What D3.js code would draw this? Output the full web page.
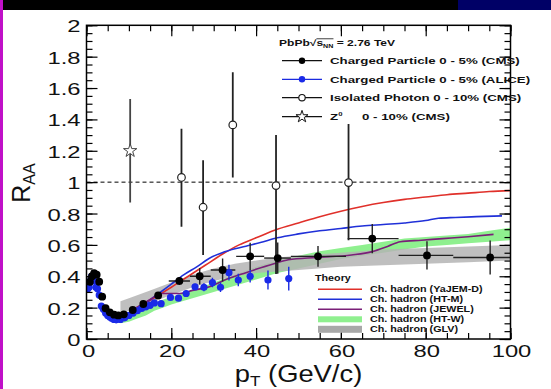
<!DOCTYPE html>
<html>
<head>
<meta charset="utf-8">
<script src="https://cdn.jsdelivr.net/npm/d3@7"></script>
<style>
  body { margin: 0; background: #fff; }
  text { font-family: "Liberation Sans", Arial, Helvetica, sans-serif; }
</style>
</head>
<body>
<div id="chart"></div>
<script>
// ---- data ----
// CMS charged particle 0-5%
const cmsPt   = [0.8, 1.3, 1.8, 2.4, 3.0, 3.7, 4.5, 5.5, 6.5, 7.5, 8.8, 10.9, 13.4, 16.9, 21.9, 26.7, 32.1, 38.6, 45.1, 54.6, 67.4, 80.3, 95.2];
const cmsR    = [0.365, 0.40, 0.42, 0.41, 0.365, 0.27, 0.196, 0.17, 0.155, 0.15, 0.157, 0.185, 0.223, 0.278, 0.37, 0.40, 0.44, 0.527, 0.516, 0.527, 0.64, 0.533, 0.52];
const cmsErr  = [0.01, 0.01, 0.01, 0.01, 0.01, 0.01, 0.01, 0.01, 0.01, 0.01, 0.01, 0.01, 0.01, 0.015, 0.025, 0.053, 0.074, 0.087, 0.10, 0.066, 0.093, 0.09, 0.108];
const cmsBinLo = [null, null, null, null, null, null, null, null, null, null, null, null, null, null, 19.4, 24.4, 29.3, 35.3, 41.9, 48.2, 61.6, 73.6, 86.5];
const cmsBinHi = [null, null, null, null, null, null, null, null, null, null, null, null, null, null, 24.4, 29.3, 35.1, 41.9, 48.2, 61.2, 73.6, 86.5, 100];

// ALICE charged particle 0-5%
const alicePt  = [0.3, 0.6, 0.9, 1.2, 1.5, 1.8, 2.2, 2.6, 3.0, 3.5, 4.0, 4.5, 5.0, 5.5, 6.0, 6.5, 7.0, 8.0, 9.0, 10.0, 11.0, 12.0, 13.0, 14.0, 15.0, 16.0, 17.6, 19.8, 21.7, 23.5, 25.6, 27.7, 29.7, 31.6, 33.6, 35.8, 38.6, 42.8, 47.7];
const aliceR   = [0.32, 0.33, 0.37, 0.40, 0.39, 0.37, 0.33, 0.32, 0.28, 0.21, 0.19, 0.165, 0.15, 0.14, 0.13, 0.125, 0.122, 0.125, 0.135, 0.15, 0.165, 0.18, 0.195, 0.205, 0.215, 0.23, 0.225, 0.265, 0.26, 0.29, 0.333, 0.33, 0.36, 0.33, 0.423, 0.376, 0.40, 0.376, 0.385];
const aliceErr = [0.01, 0.01, 0.01, 0.01, 0.01, 0.01, 0.01, 0.01, 0.01, 0.01, 0.01, 0.01, 0.01, 0.01, 0.01, 0.01, 0.01, 0.01, 0.01, 0.01, 0.01, 0.01, 0.01, 0.01, 0.01, 0.01, 0.015, 0.015, 0.015, 0.02, 0.02, 0.025, 0.03, 0.03, 0.05, 0.04, 0.04, 0.06, 0.075];

// isolated photon 0-10%
const phoPt = [22.4, 27.5, 34.5, 44.7, 61.8];
const phoR  = [1.03, 0.84, 1.365, 0.978, 0.997];
const phoLo = [0.716, 0.535, 1.03, 0.414, 0.63];
const phoHi = [1.34, 1.14, 1.70, 1.30, 1.37];

// Z0 0-10%
const zPt = [10.3], zR = [1.20], zLo = [0.87], zHi = [1.53];

// theory curves
const yajemPt = [11, 14, 17, 20, 24, 28, 32, 36, 40, 45, 50, 55, 60, 65, 70, 75, 80, 85, 90, 95, 100];
const yajemR  = [0.19, 0.23, 0.28, 0.33, 0.40, 0.47, 0.54, 0.60, 0.645, 0.70, 0.74, 0.78, 0.815, 0.845, 0.87, 0.89, 0.905, 0.92, 0.93, 0.94, 0.946];
const htmPt = [11, 14, 17, 20, 23, 26, 29, 32, 35, 38, 41, 45, 50, 55, 60, 65, 70, 75, 80, 83, 87, 92, 98];
const htmR  = [0.18, 0.23, 0.29, 0.35, 0.41, 0.46, 0.515, 0.55, 0.575, 0.595, 0.615, 0.645, 0.67, 0.69, 0.705, 0.72, 0.73, 0.74, 0.755, 0.77, 0.775, 0.78, 0.785];
const jewelPt = [10.5, 13, 15.5, 17.7, 20, 22, 25, 29, 32.6, 37.6, 44.2, 47.6, 54.2, 62.5, 67.4, 71, 74, 79, 84, 90, 96];
const jewelR  = [0.18, 0.22, 0.26, 0.29, 0.29, 0.29, 0.31, 0.333, 0.376, 0.423, 0.48, 0.505, 0.52, 0.536, 0.557, 0.59, 0.62, 0.63, 0.64, 0.652, 0.667];
const htwPt = [8, 10, 12, 14, 16, 18, 20, 25, 30, 35, 40, 45, 50, 55, 60, 65, 70, 75, 80, 85, 90, 95, 100];
const htwLo = [0.10, 0.11, 0.13, 0.15, 0.18, 0.20, 0.22, 0.26, 0.30, 0.34, 0.38, 0.42, 0.45, 0.48, 0.51, 0.53, 0.55, 0.57, 0.59, 0.60, 0.61, 0.62, 0.63];
const htwHi = [0.13, 0.15, 0.17, 0.20, 0.23, 0.25, 0.27, 0.31, 0.36, 0.41, 0.46, 0.50, 0.53, 0.56, 0.58, 0.60, 0.62, 0.64, 0.65, 0.66, 0.67, 0.69, 0.71];
const glvPt = [8, 10, 15, 20, 25, 30, 35, 40, 45, 50, 60, 70, 80, 90, 100];
const glvLo = [0.16, 0.18, 0.23, 0.28, 0.33, 0.37, 0.40, 0.42, 0.43, 0.44, 0.46, 0.47, 0.48, 0.49, 0.50];
const glvHi = [0.24, 0.26, 0.31, 0.36, 0.41, 0.45, 0.48, 0.50, 0.52, 0.53, 0.55, 0.57, 0.58, 0.59, 0.60];

// ticks
const xMajor = [0, 20, 40, 60, 80, 100];
const xTickLabels = ["0", "20", "40", "60", "80", "100"];
const yMajor = [0, 0.2, 0.4, 0.6, 0.8, 1, 1.2, 1.4, 1.6, 1.8, 2];
const yTickLabels = ["0", "0.2", "0.4", "0.6", "0.8", "1", "1.2", "1.4", "1.6", "1.8", "2"];

const dataLegend = ["Charged Particle 0 - 5% (CMS)", "Charged Particle 0 - 5% (ALICE)", "Isolated Photon 0 - 10% (CMS)", "0 - 10% (CMS)"];
const theoryLegend = ["Ch. hadron (YaJEM-D)", "Ch. hadron (HT-M)", "Ch. hadron (JEWEL)", "Ch. hadron (HT-W)", "Ch. hadron (GLV)"];

// ---- drawing ----
const W = 551, H = 389;
const x = d3.scaleLinear().domain([0, 100]).range([86.5, 510.5]);
const y = d3.scaleLinear().domain([0, 2]).range([339, 25.3]);

const svg = d3.select("#chart").append("svg")
              .attr("width", W)
              .attr("height", H);

// screenshot surroundings
svg.append("rect").attr("width", W).attr("height", H).attr("fill", "#fff");
svg.append("rect").attr("width", W).attr("height", 10).attr("fill", "#000");
svg.append("rect").attr("x", 458).attr("width", W - 458).attr("height", 10).attr("fill", "#000066");
svg.append("rect").attr("width", 3).attr("height", H).attr("fill", "#c010c8");

svg.append("clipPath").attr("id", "plot")
   .append("rect")
   .attr("x", x(0)).attr("y", y(2))
   .attr("width", x(100) - x(0)).attr("height", y(0) - y(2));
const plot = svg.append("g").attr("clip-path", "url(#plot)");

const band = (pt, lo, hi) => d3.area()
    .x((d, i) => x(pt[i]))
    .y0((d, i) => y(lo[i]))
    .y1((d, i) => y(hi[i]))(pt);
const curve = (pt, r) => d3.line()
    .x((d, i) => x(pt[i]))
    .y((d, i) => y(r[i]))
    .curve(d3.curveMonotoneX)(pt);

plot.append("path").attr("d", band(htwPt, htwLo, htwHi)).attr("fill", "#8ff08f");
plot.append("path").attr("d", band(glvPt, glvLo, glvHi)).attr("fill", "#b4b4b4").attr("opacity", 0.85);

const red = "#e0302a", blue = "#2030d8", purple = "#7a1f78";
plot.append("path").attr("d", curve(yajemPt, yajemR)).attr("fill", "none").attr("stroke", red).attr("stroke-width", 1.6);
plot.append("path").attr("d", curve(htmPt, htmR)).attr("fill", "none").attr("stroke", blue).attr("stroke-width", 1.6);
plot.append("path").attr("d", curve(jewelPt, jewelR)).attr("fill", "none").attr("stroke", purple).attr("stroke-width", 1.6);

// R_AA = 1 reference
plot.append("line")
    .attr("x1", x(0)).attr("x2", x(100))
    .attr("y1", y(1)).attr("y2", y(1))
    .attr("stroke", "#000").attr("stroke-width", 1)
    .attr("stroke-dasharray", "4,3");

// error bars
const err = plot.append("g").attr("stroke", "#222").attr("stroke-width", 1.4);
cmsPt.forEach((p, i) => {
    err.append("line").attr("x1", x(p)).attr("x2", x(p))
       .attr("y1", y(cmsR[i] - cmsErr[i])).attr("y2", y(cmsR[i] + cmsErr[i]));
    if (cmsBinLo[i] !== null)
        err.append("line").attr("x1", x(cmsBinLo[i])).attr("x2", x(cmsBinHi[i]))
           .attr("y1", y(cmsR[i])).attr("y2", y(cmsR[i]));
});
alicePt.forEach((p, i) => {
    err.append("line").attr("x1", x(p)).attr("x2", x(p)).attr("stroke", "#1a2ae0")
       .attr("y1", y(aliceR[i] - aliceErr[i])).attr("y2", y(aliceR[i] + aliceErr[i]));
});
phoPt.forEach((p, i) => {
    err.append("line").attr("x1", x(p)).attr("x2", x(p)).attr("stroke-width", 1.8)
       .attr("y1", y(phoLo[i])).attr("y2", y(phoHi[i]));
});
zPt.forEach((p, i) => {
    err.append("line").attr("x1", x(p)).attr("x2", x(p)).attr("stroke", "#444").attr("stroke-width", 1.8)
       .attr("y1", y(zLo[i])).attr("y2", y(zHi[i]));
});

// markers
plot.selectAll(".alice").data(alicePt).enter()
    .append("circle").attr("class", "alice")
    .attr("cx", d => x(d)).attr("cy", (d, i) => y(aliceR[i]))
    .attr("r", 3.6).attr("fill", "#1a2ae8");
plot.selectAll(".cms").data(cmsPt).enter()
    .append("circle").attr("class", "cms")
    .attr("cx", d => x(d)).attr("cy", (d, i) => y(cmsR[i]))
    .attr("r", 3.9).attr("fill", "#000");
plot.selectAll(".pho").data(phoPt).enter()
    .append("circle").attr("class", "pho")
    .attr("cx", d => x(d)).attr("cy", (d, i) => y(phoR[i]))
    .attr("r", 3.8).attr("fill", "#fff").attr("stroke", "#222").attr("stroke-width", 1.2);
const star = d3.symbol().type(d3.symbolStar).size(55);
plot.selectAll(".zz").data(zPt).enter()
    .append("path").attr("class", "zz")
    .attr("transform", (d, i) => `translate(${x(d)},${y(zR[i])})`)
    .attr("d", star).attr("fill", "#fff").attr("stroke", "#444").attr("stroke-width", 1);

// axes: ticks on all four sides, pointing inward
const xMinor = d3.range(0, 100.1, 5), yMinor = d3.range(0, 2.001, 0.05);
function tickAxis(axis, scale, vals, size, tx, ty) {
    const g = svg.append("g").attr("transform", `translate(${tx},${ty})`)
                 .call(axis(scale).tickValues(vals).tickSize(size).tickFormat(""));
    g.select(".domain").remove();
    g.selectAll("line").attr("stroke", "#000").attr("stroke-width", 1.2);
    return g;
}
tickAxis(d3.axisBottom, x, xMinor, -6, 0, y(0));
tickAxis(d3.axisBottom, x, xMajor, -11, 0, y(0));
tickAxis(d3.axisTop, x, xMinor, -6, 0, y(2));
tickAxis(d3.axisTop, x, xMajor, -11, 0, y(2));
tickAxis(d3.axisLeft, y, yMinor, -6, x(0), 0);
tickAxis(d3.axisLeft, y, yMajor, -11, x(0), 0);
tickAxis(d3.axisRight, y, yMinor, -6, x(100), 0);
tickAxis(d3.axisRight, y, yMajor, -11, x(100), 0);

svg.append("rect")
   .attr("x", x(0)).attr("y", y(2))
   .attr("width", x(100) - x(0)).attr("height", y(0) - y(2))
   .attr("fill", "none").attr("stroke", "#000").attr("stroke-width", 1.5);

// tick labels (wide, as in the picture)
const tickFont = 17, stretch = 1.4;
svg.selectAll(".xlab").data(xMajor).enter()
   .append("text").attr("class", "xlab")
   .attr("transform", d => `translate(${x(d) + (d === 0 ? 2 : 1)},${y(0) + 17.5}) scale(${stretch},1)`)
   .attr("text-anchor", "middle")
   .attr("font-size", tickFont).attr("fill", "#111")
   .text((d, i) => xTickLabels[i]);
svg.selectAll(".ylab").data(yMajor).enter()
   .append("text").attr("class", "ylab")
   .attr("transform", d => `translate(${x(0) - 6},${y(d) + 7}) scale(${stretch},1)`)
   .attr("text-anchor", "end")
   .attr("font-size", tickFont).attr("fill", "#111")
   .text((d, i) => yTickLabels[i]);

// axis titles
const xt = svg.append("text")
   .attr("transform", `translate(${(x(0) + x(100)) / 2},382) scale(1.14,1)`)
   .attr("text-anchor", "middle").attr("font-size", 24).attr("fill", "#111");
xt.append("tspan").text("p");
xt.append("tspan").attr("font-size", 15).attr("dy", 4).text("T");
xt.append("tspan").attr("dy", -4).text(" (GeV/c)");

const yt = svg.append("text")
   .attr("transform", "translate(30,183) rotate(-90)")
   .attr("text-anchor", "middle").attr("font-size", 25).attr("fill", "#111");
yt.append("tspan").text("R");
yt.append("tspan").attr("font-size", 16).attr("dy", 5).text("AA");

// data legend
const legFont = 9.5, legStretch = 1.4;
const hdrFont = 8.5, hdrStretch = 1.42;
const hdr = svg.append("text")
   .attr("transform", `translate(279,46) scale(${hdrStretch},1)`)
   .attr("font-size", hdrFont).attr("font-weight", "bold").attr("fill", "#111");
hdr.append("tspan").text("PbPb\u221A");
hdr.append("tspan").text("s");
hdr.append("tspan").attr("font-size", 5).attr("dy", 2).text("NN");
hdr.append("tspan").attr("dy", -2).text(" = 2.76 TeV");
// radical bar over s_NN
const rootW = hdr.node().getSubStringLength(0, 5);
svg.append("line")
   .attr("x1", 279 + rootW * hdrStretch).attr("x2", 279 + (rootW + 12) * hdrStretch)
   .attr("y1", 46 - hdrFont * 0.85).attr("y2", 46 - hdrFont * 0.85)
   .attr("stroke", "#111").attr("stroke-width", 0.8);

const legY = [60.7, 79.3, 97.7, 116.7];
legY.forEach((ly, i) => {
    svg.append("line").attr("x1", 282).attr("x2", 322).attr("y1", ly).attr("y2", ly)
       .attr("stroke", i === 1 ? "#1a2ae0" : "#111").attr("stroke-width", 1.2);
    const tx = i === 3 ? 362 : 330;
    svg.append("text")
       .attr("transform", `translate(${tx},${ly + 3.3}) scale(${legStretch},1)`)
       .attr("font-size", legFont).attr("font-weight", "bold").attr("fill", "#111")
       .text(dataLegend[i]);
});
svg.append("circle").attr("cx", 302).attr("cy", legY[0]).attr("r", 3.2).attr("fill", "#000");
svg.append("circle").attr("cx", 302).attr("cy", legY[1]).attr("r", 3.2).attr("fill", "#1a2ae8");
svg.append("circle").attr("cx", 302).attr("cy", legY[2]).attr("r", 3.2).attr("fill", "#fff").attr("stroke", "#111").attr("stroke-width", 1.1);
svg.append("path").attr("transform", `translate(302,${legY[3]})`)
   .attr("d", d3.symbol().type(d3.symbolStar).size(45)).attr("fill", "#fff").attr("stroke", "#111").attr("stroke-width", 1);
const zt = svg.append("text")
   .attr("transform", `translate(330,${legY[3] + 3.3}) scale(${legStretch},1)`)
   .attr("font-size", legFont).attr("font-weight", "bold").attr("fill", "#111");
zt.append("tspan").text("Z");
zt.append("tspan").attr("font-size", 5.5).attr("dy", -4).text("0");

// theory legend
const thFont = 8.2, thStretch = 1.31;
svg.append("text")
   .attr("transform", `translate(315,281) scale(${thStretch},1)`)
   .attr("font-size", thFont).attr("font-weight", "bold").attr("fill", "#111")
   .text("Theory");
const thY = [289.3, 299.3, 309.3, 319.3, 329.3];
const thColor = [red, blue, purple];
thY.forEach((ly, i) => {
    if (i < 3) {
        svg.append("line").attr("x1", 318).attr("x2", 362).attr("y1", ly).attr("y2", ly)
           .attr("stroke", thColor[i]).attr("stroke-width", 1.6);
    } else {
        svg.append("rect").attr("x", 318).attr("width", 44)
           .attr("y", ly - (i === 3 ? 3 : 3.5)).attr("height", i === 3 ? 6 : 7)
           .attr("fill", i === 3 ? "#8ff08f" : "#a8a8a8");
    }
    svg.append("text")
       .attr("transform", `translate(370,${ly + 3}) scale(${thStretch},1)`)
       .attr("font-size", thFont).attr("font-weight", "bold").attr("fill", "#111")
       .text(theoryLegend[i]);
});
</script>
</body>
</html>
